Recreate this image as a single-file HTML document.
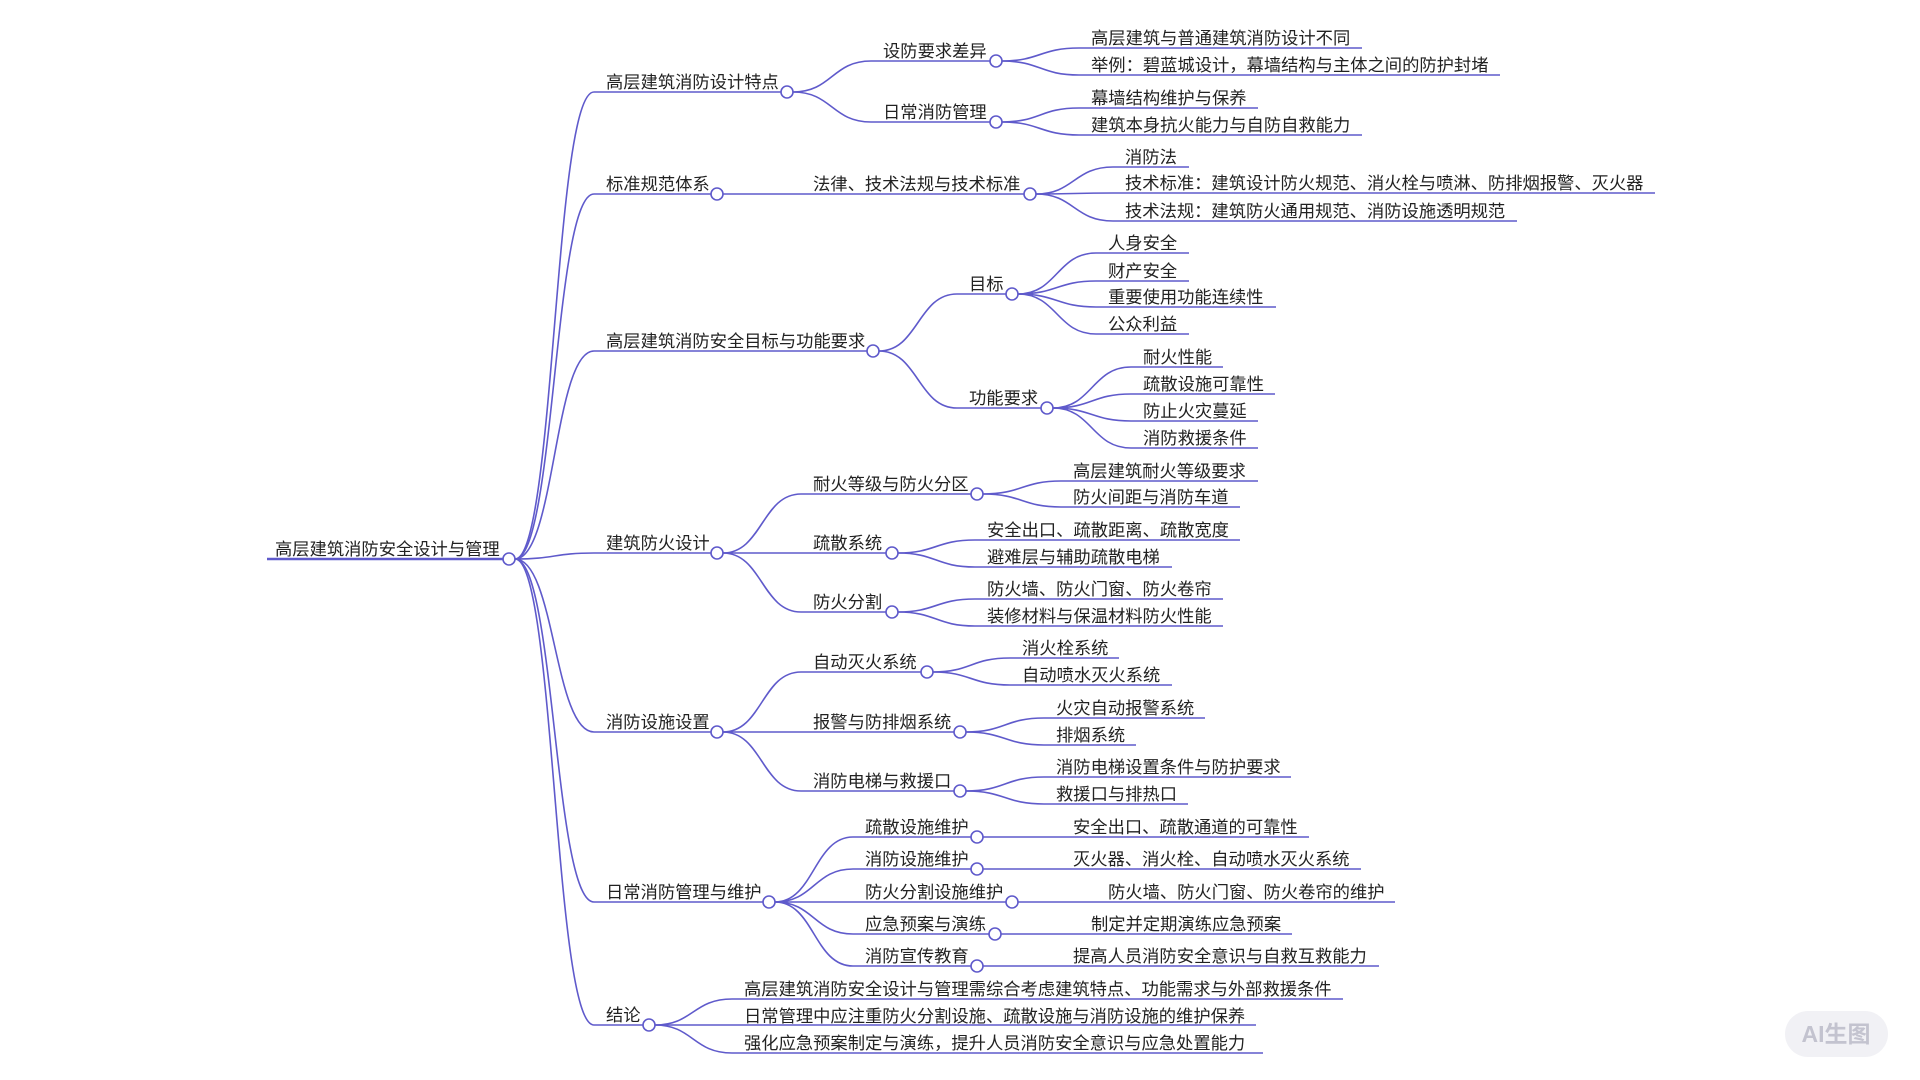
<!DOCTYPE html>
<html><head><meta charset="utf-8"><style>
html,body{margin:0;padding:0;background:#fff;width:1920px;height:1080px;overflow:hidden}
svg{display:block}
text{font-family:"Liberation Sans","Noto Sans CJK SC",sans-serif;font-size:17.3px;fill:#222}
.l{fill:none;stroke:#5f5acb;stroke-width:1.6}
.c{fill:#fff;stroke:#5f5acb;stroke-width:1.6}
</style></head><body>
<svg width="1920" height="1080" viewBox="0 0 1920 1080">
<path d="M267,559 H503" fill="none" stroke="#5f5acb" stroke-width="2.6"/>
<g transform="translate(0,2)">
<text x="275" y="553">高层建筑消防安全设计与管理</text>
<text x="606" y="86">高层建筑消防设计特点</text>
<text x="606" y="188">标准规范体系</text>
<text x="606" y="345">高层建筑消防安全目标与功能要求</text>
<text x="606" y="547">建筑防火设计</text>
<text x="606" y="726">消防设施设置</text>
<text x="606" y="896">日常消防管理与维护</text>
<text x="606" y="1019">结论</text>
<text x="883" y="55">设防要求差异</text>
<text x="883" y="116">日常消防管理</text>
<text x="813" y="188">法律、技术法规与技术标准</text>
<text x="969" y="288">目标</text>
<text x="969" y="402">功能要求</text>
<text x="813" y="488">耐火等级与防火分区</text>
<text x="813" y="547">疏散系统</text>
<text x="813" y="606">防火分割</text>
<text x="813" y="666">自动灭火系统</text>
<text x="813" y="726">报警与防排烟系统</text>
<text x="813" y="785">消防电梯与救援口</text>
<text x="865" y="831">疏散设施维护</text>
<text x="865" y="863">消防设施维护</text>
<text x="865" y="896">防火分割设施维护</text>
<text x="865" y="928">应急预案与演练</text>
<text x="865" y="960">消防宣传教育</text>
<text x="744" y="993">高层建筑消防安全设计与管理需综合考虑建筑特点、功能需求与外部救援条件</text>
<text x="744" y="1020">日常管理中应注重防火分割设施、疏散设施与消防设施的维护保养</text>
<text x="744" y="1047">强化应急预案制定与演练，提升人员消防安全意识与应急处置能力</text>
<text x="1091" y="42">高层建筑与普通建筑消防设计不同</text>
<text x="1091" y="69">举例：碧蓝城设计，幕墙结构与主体之间的防护封堵</text>
<text x="1091" y="102">幕墙结构维护与保养</text>
<text x="1091" y="129">建筑本身抗火能力与自防自救能力</text>
<text x="1125" y="161">消防法</text>
<text x="1125" y="187">技术标准：建筑设计防火规范、消火栓与喷淋、防排烟报警、灭火器</text>
<text x="1125" y="215">技术法规：建筑防火通用规范、消防设施透明规范</text>
<text x="1108" y="247">人身安全</text>
<text x="1108" y="275">财产安全</text>
<text x="1108" y="301">重要使用功能连续性</text>
<text x="1108" y="328">公众利益</text>
<text x="1143" y="361">耐火性能</text>
<text x="1143" y="388">疏散设施可靠性</text>
<text x="1143" y="415">防止火灾蔓延</text>
<text x="1143" y="442">消防救援条件</text>
<text x="1073" y="475">高层建筑耐火等级要求</text>
<text x="1073" y="501">防火间距与消防车道</text>
<text x="987" y="534">安全出口、疏散距离、疏散宽度</text>
<text x="987" y="561">避难层与辅助疏散电梯</text>
<text x="987" y="593">防火墙、防火门窗、防火卷帘</text>
<text x="987" y="620">装修材料与保温材料防火性能</text>
<text x="1022" y="652">消火栓系统</text>
<text x="1022" y="679">自动喷水灭火系统</text>
<text x="1056" y="712">火灾自动报警系统</text>
<text x="1056" y="739">排烟系统</text>
<text x="1056" y="771">消防电梯设置条件与防护要求</text>
<text x="1056" y="798">救援口与排热口</text>
<text x="1073" y="831">安全出口、疏散通道的可靠性</text>
<text x="1073" y="863">灭火器、消火栓、自动喷水灭火系统</text>
<text x="1108" y="896">防火墙、防火门窗、防火卷帘的维护</text>
<text x="1091" y="928">制定并定期演练应急预案</text>
<text x="1073" y="960">提高人员消防安全意识与自救互救能力</text>
</g>

<g class="l">
<path d="M515,559 C555,559 554,92 594,92 H781"/>
<path d="M515,559 C555,559 554,194 594,194 H711"/>
<path d="M515,559 C555,559 554,351 594,351 H867"/>
<path d="M515,559 C555,559 554,553 594,553 H711"/>
<path d="M515,559 C555,559 554,732 594,732 H711"/>
<path d="M515,559 C555,559 554,902 594,902 H763"/>
<path d="M515,559 C555,559 554,1025 594,1025 H643"/>
<path d="M793,92 C832,92 832,61 871,61 H990"/>
<path d="M793,92 C832,92 832,122 871,122 H990"/>
<path d="M723,194 H1024"/>
<path d="M879,351 C918,351 918,294 957,294 H1006"/>
<path d="M879,351 C918,351 918,408 957,408 H1041"/>
<path d="M723,553 C762,553 762,494 801,494 H971"/>
<path d="M723,553 H886"/>
<path d="M723,553 C762,553 762,612 801,612 H886"/>
<path d="M723,732 C762,732 762,672 801,672 H921"/>
<path d="M723,732 H954"/>
<path d="M723,732 C762,732 762,791 801,791 H954"/>
<path d="M775,902 C814,902 814,837 853,837 H971"/>
<path d="M775,902 C814,902 814,869 853,869 H971"/>
<path d="M775,902 H1006"/>
<path d="M775,902 C814,902 814,934 853,934 H989"/>
<path d="M775,902 C814,902 814,966 853,966 H971"/>
<path d="M655,1025 C693,1025 693,999 732,999 H1343"/>
<path d="M655,1025 H1256"/>
<path d="M655,1025 C693,1025 693,1053 732,1053 H1263"/>
<path d="M1002,61 C1040,61 1040,48 1079,48 H1362"/>
<path d="M1002,61 C1040,61 1040,75 1079,75 H1500"/>
<path d="M1002,122 C1040,122 1040,108 1079,108 H1258"/>
<path d="M1002,122 C1040,122 1040,135 1079,135 H1362"/>
<path d="M1036,194 C1074,194 1074,167 1113,167 H1189"/>
<path d="M1036,194 C1074,194 1074,193 1113,193 H1655"/>
<path d="M1036,194 C1074,194 1074,221 1113,221 H1517"/>
<path d="M1018,294 C1057,294 1057,253 1096,253 H1189"/>
<path d="M1018,294 C1057,294 1057,281 1096,281 H1189"/>
<path d="M1018,294 C1057,294 1057,307 1096,307 H1276"/>
<path d="M1018,294 C1057,294 1057,334 1096,334 H1189"/>
<path d="M1053,408 C1092,408 1092,367 1131,367 H1223"/>
<path d="M1053,408 C1092,408 1092,394 1131,394 H1275"/>
<path d="M1053,408 C1092,408 1092,421 1131,421 H1258"/>
<path d="M1053,408 C1092,408 1092,448 1131,448 H1258"/>
<path d="M983,494 C1022,494 1022,481 1061,481 H1258"/>
<path d="M983,494 C1022,494 1022,507 1061,507 H1240"/>
<path d="M898,553 C936,553 936,540 975,540 H1240"/>
<path d="M898,553 C936,553 936,567 975,567 H1172"/>
<path d="M898,612 C936,612 936,599 975,599 H1223"/>
<path d="M898,612 C936,612 936,626 975,626 H1223"/>
<path d="M933,672 C971,672 971,658 1010,658 H1119"/>
<path d="M933,672 C971,672 971,685 1010,685 H1172"/>
<path d="M966,732 C1005,732 1005,718 1044,718 H1205"/>
<path d="M966,732 C1005,732 1005,745 1044,745 H1136"/>
<path d="M966,791 C1005,791 1005,777 1044,777 H1291"/>
<path d="M966,791 C1005,791 1005,804 1044,804 H1188"/>
<path d="M983,837 H1309"/>
<path d="M983,869 H1361"/>
<path d="M1018,902 H1395"/>
<path d="M1001,934 H1292"/>
<path d="M983,966 H1379"/>
</g>

<g class="c">
<circle cx="509" cy="559" r="6"/>
<circle cx="787" cy="92" r="6"/><circle cx="717" cy="194" r="6"/><circle cx="873" cy="351" r="6"/>
<circle cx="717" cy="553" r="6"/><circle cx="717" cy="732" r="6"/><circle cx="769" cy="902" r="6"/><circle cx="649" cy="1025" r="6"/>
<circle cx="996" cy="61" r="6"/><circle cx="996" cy="122" r="6"/><circle cx="1030" cy="194" r="6"/>
<circle cx="1012" cy="294" r="6"/><circle cx="1047" cy="408" r="6"/>
<circle cx="977" cy="494" r="6"/><circle cx="892" cy="553" r="6"/><circle cx="892" cy="612" r="6"/>
<circle cx="927" cy="672" r="6"/><circle cx="960" cy="732" r="6"/><circle cx="960" cy="791" r="6"/>
<circle cx="977" cy="837" r="6"/><circle cx="977" cy="869" r="6"/><circle cx="1012" cy="902" r="6"/>
<circle cx="995" cy="934" r="6"/><circle cx="977" cy="966" r="6"/>
</g>

<rect x="1785" y="1011" width="103" height="46" rx="23" fill="#f1f1f5"/>
<text x="1836" y="1042" text-anchor="middle" style="font-size:23px;fill:#c3c3cf;font-weight:bold">AI生图</text>
</svg>
</body></html>
